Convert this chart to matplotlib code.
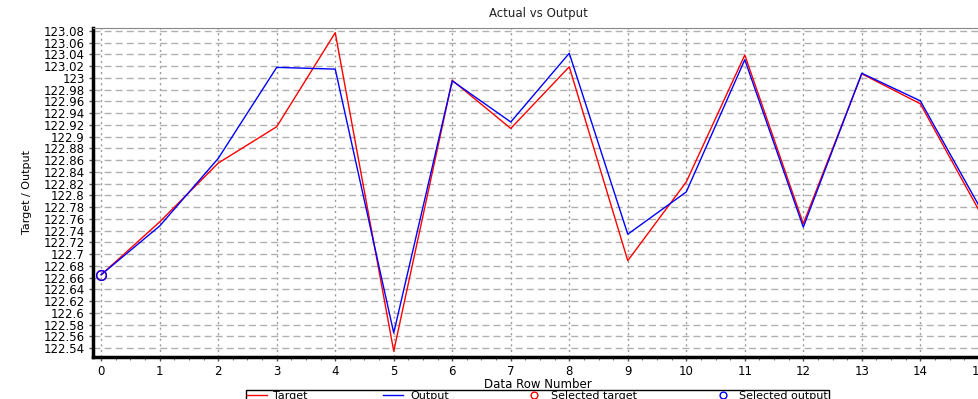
import matplotlib
matplotlib.use("Agg")
import matplotlib.pyplot as plt
from matplotlib.ticker import MultipleLocator, FuncFormatter

rows = list(range(16))
target = [122.665, 122.755, 122.855, 122.917, 123.077, 122.535, 122.996, 122.914,
          123.019, 122.689, 122.823, 123.039, 122.752, 123.007, 122.956, 122.775]
output = [122.665, 122.748, 122.863, 123.018, 123.015, 122.566, 122.995, 122.925,
          123.042, 122.734, 122.806, 123.031, 122.746, 123.008, 122.961, 122.783]
sel_row = [0]
sel_target = [122.665]
sel_output = [122.665]

plt.rcParams["font.family"] = ["DejaVu Sans"]

fig = plt.figure(figsize=(9.79, 3.99), dpi=100)
ax = fig.add_axes([93 / 979, 1 - 357 / 399, 1 - 93 / 979 + 0.004, (357 - 28) / 399])

ax.plot(rows, target, color="#ff0000", lw=1, label="Target", zorder=3)
ax.plot(rows, output, color="#0000ff", lw=1, label="Output", zorder=3)
ax.plot(sel_row, sel_target, ls="none", marker="o", ms=7, mfc="none", mec="#ff0000",
        mew=1, label="Selected target", zorder=4)
ax.plot(sel_row, sel_output, ls="none", marker="o", ms=7, mfc="none", mec="#0000ff",
        mew=1, label="Selected output", zorder=4)

ax.set_xlim(-0.14, 15.07)
ax.set_ylim(122.525, 123.085)
ax.xaxis.set_major_locator(MultipleLocator(1))
ax.xaxis.set_minor_locator(MultipleLocator(0.25))
ax.yaxis.set_major_locator(MultipleLocator(0.02))
ax.yaxis.set_major_formatter(FuncFormatter(lambda v, p: f"{round(v, 2):g}"))

ax.grid(axis="x", which="major", color="#999999", ls=(0, (1.5, 2.5)), lw=1)
ax.grid(axis="y", which="major", color="#b0b0b0", ls=(0, (5, 3)), lw=1)
ax.set_axisbelow(True)

for s in ("left", "bottom"):
    ax.spines[s].set_linewidth(2.5)
    ax.spines[s].set_color("black")
ax.spines["top"].set_color("#888888")
ax.spines["right"].set_visible(False)

ax.tick_params(axis="both", labelsize=8.5, length=3, width=1, color="#555555", pad=3)
ax.tick_params(axis="x", which="minor", length=2, color="#555555")

ax.set_title("Actual vs Output", fontsize=8.5, pad=8, color="#222222")
ax.set_xlabel("Data Row Number", fontsize=8.5, labelpad=0)
ax.set_ylabel("Target / Output", fontsize=8, labelpad=8)

fig.legend(loc="upper left", bbox_to_anchor=(240 / 979, 1 - 384 / 399), ncol=4,
           fontsize=8, frameon=True, fancybox=False, edgecolor="black",
           handlelength=1.8, columnspacing=6.8, borderpad=0.1, handletextpad=0.6,
           markerscale=0.7, framealpha=1)

fig.savefig("out.png", dpi=100)
